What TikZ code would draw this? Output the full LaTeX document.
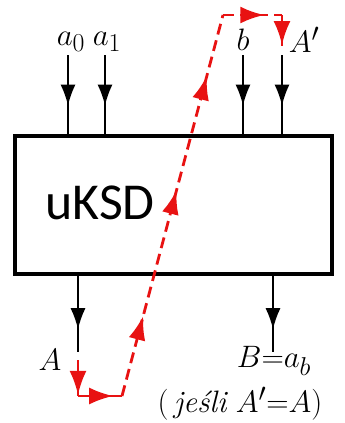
\documentclass[tikz,border=0pt]{standalone}
\usepackage{fontspec}
\newfontfamily\ksdfont{Carlito}
\usetikzlibrary{arrows.meta,positioning,decorations.markings}
\definecolor{ksdred}{RGB}{232,18,18}
\tikzset{
  sigline/.style={line width=1.6bp, draw=black, postaction={decorate},
    decoration={markings, mark=at position #1 with {\arrow{Latex[length=21bp,width=15bp]}}}},
  sigline/.default=0.64,
  redline/.style={line width=2.8bp, draw=ksdred, postaction={decorate},
    decoration={markings, mark=at position #1 with {\arrow[ksdred]{Latex[length=24bp,width=17bp]}}}},
  redline/.default=0.9,
  reddash/.style={redline=#1, dash pattern=on 11bp off 6bp},
  lbl/.style={font=\fontsize{24.88}{28}\selectfont, inner sep=0pt, scale=1.25, transform shape},
  blockbox/.style={draw=black, line width=4bp, minimum width=317bp, minimum height=138bp, inner sep=0pt}
}
\begin{document}
\begin{tikzpicture}[x=1bp,y=-1bp]
  \useasboundingbox (0,0) rectangle (345,423);
  % block
  \node[blockbox] (ksd) at (173.5,205) {};
  \node[font=\ksdfont\fontsize{52}{52}\selectfont, inner sep=0pt] (name) at (100,203) {uKSD};

  % inputs
  \node[lbl] (la0) at (71,42) {$a_0$};
  \node[lbl] (la1) at (107,42) {$a_1$};
  \node[lbl] (lb) at (243,40) {$b$};
  \node[lbl] (lap) at (304,40) {$A'$};
  \coordinate (in0) at (68,55);
  \coordinate (in1) at (105,55);
  \coordinate (in2) at (243,55);
  \coordinate (in3) at (282,55);
  \foreach \i in {0,...,3}
    \draw[sigline] (in\i) -- (in\i |- ksd.north);

  % outputs
  \coordinate (out0) at (78,352);
  \coordinate (out1) at (273,352);
  \draw[sigline=0.7] (out0 |- ksd.south) -- (out0);
  \draw[sigline=0.7] (out1 |- ksd.south) -- (out1);
  \node[lbl] (lA) at (50,360) {$A$};
  \node[lbl] (lB) at (274,361) {$B{=}a_b$};
  \node[lbl] (lif) at (240,404) {$(\,\textit{jeśli}\ A'{=}A)$};

  % red path
  \coordinate (r0) at (78,360);
  \coordinate (r1) at (78,396);
  \coordinate (r2) at (122,396);
  \coordinate (r3) at (223,15);
  \coordinate (r4) at (282,15);
  \coordinate (r5) at (282,46);
  \draw[redline=0.97] (r0) -- (r1);
  \draw[redline=0.8] (r1) -- (r2);
  \draw[line width=2.8bp, draw=ksdred, dash pattern=on 11bp off 6bp, postaction={decorate},
    decoration={markings,
      mark=at position 0.21 with {\arrow[ksdred]{Latex[length=24bp,width=17bp]}},
      mark=at position 0.54 with {\arrow[ksdred]{Latex[length=24bp,width=17bp]}},
      mark=at position 0.84 with {\arrow[ksdred]{Latex[length=24bp,width=17bp]}}}] (r2) -- (r3);
  \draw[reddash=0.7] (r3) -- (r4);
  \draw[redline=0.97] (r4) -- (r5);
\end{tikzpicture}
\end{document}
